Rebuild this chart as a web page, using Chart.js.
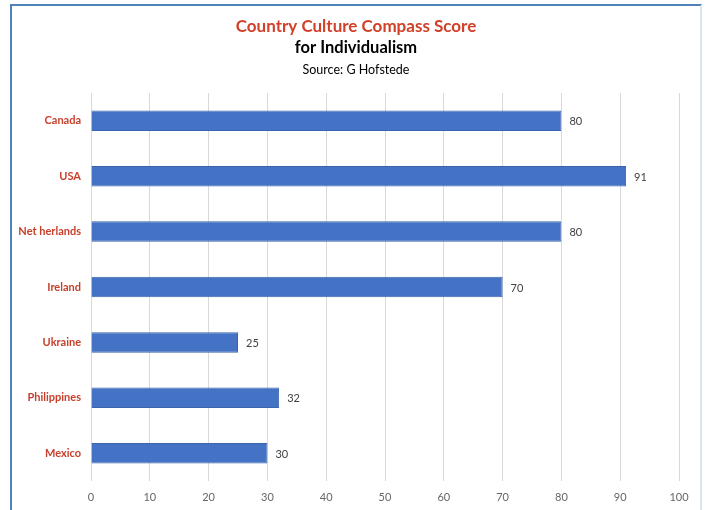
<!DOCTYPE html>
<html>
<head>
<meta charset="utf-8">
<script src="https://cdn.jsdelivr.net/npm/chart.js@4/dist/chart.umd.min.js"></script>
<style>
  html, body { margin: 0; padding: 0; background: #ffffff; }
  #wrap { position: absolute; left: 0; top: 0; width: 706px; height: 510px; }
  #frame { position: absolute; left: 10px; top: 4px; width: 688px; height: 510px;
           border-left: 2px solid #4f81bd; border-top: 2px solid #4f81bd; border-right: 2px solid #dbe5f1;
           pointer-events: none; }
</style>
</head>
<body>
<div id="wrap"><canvas id="c" width="706" height="510"></canvas></div>
<div id="frame"></div>
<script>
const categories = ["Canada", "USA", "Net herlands", "Ireland", "Ukraine", "Philippines", "Mexico"];
const scores = [80, 91, 80, 70, 25, 32, 30];
const titleLines = ["Country Culture Compass Score", "for Individualism", "Source: G Hofstede"];
const xMin = 0, xMax = 100, xStep = 10;

const FONT = "Lato, 'Open Sans', sans-serif";

const titlePlugin = {
  id: 'titles',
  afterDraw(chart) {
    const ctx = chart.ctx;
    const cx = 356;
    ctx.save();
    ctx.textAlign = 'center';
    ctx.textBaseline = 'middle';
    ctx.fillStyle = '#d2402a';
    ctx.font = "bold 17px " + FONT;
    ctx.fillText(titleLines[0], cx, 27);
    ctx.fillStyle = '#000000';
    ctx.font = "bold 16.5px " + FONT;
    ctx.fillText(titleLines[1], cx, 48);
    ctx.font = "12.5px " + FONT;
    ctx.fillText(titleLines[2], cx, 70);
    ctx.restore();
  }
};

const valueLabels = {
  id: 'valueLabels',
  afterDatasetsDraw(chart) {
    const ctx = chart.ctx;
    const meta = chart.getDatasetMeta(0);
    ctx.save();
    ctx.font = "11px " + FONT;
    ctx.fillStyle = '#404040';
    ctx.textAlign = 'left';
    ctx.textBaseline = 'middle';
    meta.data.forEach((bar, i) => {
      ctx.fillText(String(scores[i]), bar.x + 8, bar.y + 1);
    });
    ctx.restore();
  }
};

new Chart(document.getElementById('c'), {
  type: 'bar',
  data: {
    labels: categories,
    datasets: [{
      data: scores,
      backgroundColor: '#4472c4',
      borderColor: '#3b64ad',
      borderWidth: 1,
      categoryPercentage: 1,
      barPercentage: 0.37
    }]
  },
  options: {
    indexAxis: 'y',
    responsive: false,
    animation: false,
    devicePixelRatio: 1,
    layout: { padding: { top: 93, right: 27, left: 0, bottom: 0 } },
    plugins: { legend: { display: false }, tooltip: { enabled: false }, title: { display: false } },
    scales: {
      x: {
        min: xMin, max: xMax,
        ticks: { stepSize: xStep, color: '#666666', font: { family: FONT, size: 11 }, padding: 10 },
        grid: { color: '#d9d9d9', drawTicks: false },
        border: { display: false },
        afterFit(scale) { scale.height = 29; }
      },
      y: {
        ticks: { color: '#c8402c', font: { family: FONT, size: 11, weight: 'bold' }, padding: 10 },
        grid: { display: false, drawTicks: false },
        border: { display: false },
        afterFit(scale) { scale.width = 91; }
      }
    }
  },
  plugins: [titlePlugin, valueLabels]
});
</script>
</body>
</html>
